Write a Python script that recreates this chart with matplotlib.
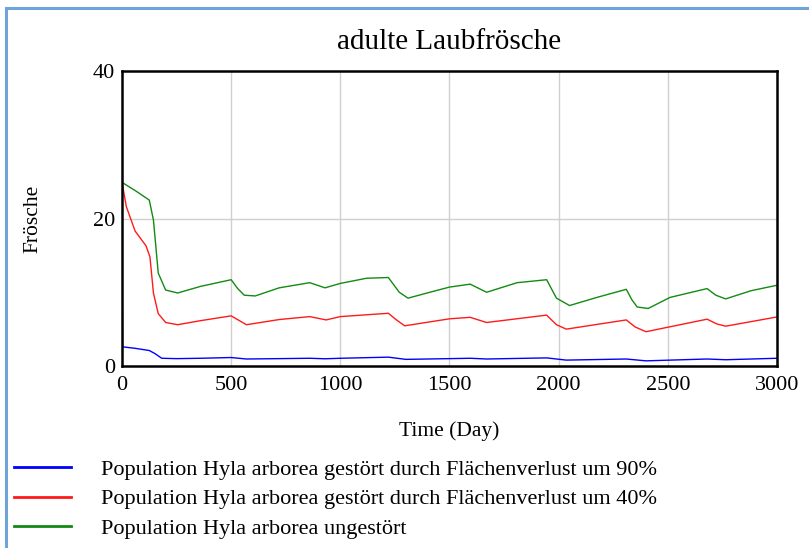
import matplotlib
matplotlib.use("Agg")
import matplotlib.pyplot as plt
from matplotlib.lines import Line2D

plt.rcParams['font.family'] = ['Liberation Serif', 'DejaVu Serif']

# Zeitachse (Tage) und Werte der drei Szenarien
t_90 = [0, 2, 60, 125, 150, 182, 250, 360, 500, 570, 720, 860, 930, 1000, 1220,
        1300, 1500, 1595, 1670, 1945, 2035, 2310, 2400, 2680, 2765, 3000]
pop_90 = [25.0, 2.6, 2.4, 2.1, 1.7, 1.05, 1.0, 1.05, 1.15, 0.95, 1.0, 1.05, 0.98,
          1.05, 1.2, 0.9, 1.0, 1.05, 0.95, 1.1, 0.8, 0.95, 0.7, 0.95, 0.85, 1.05]

t_40 = [0, 20, 60, 110, 128, 144, 166, 200, 255, 360, 500, 535, 570, 720, 860, 935,
        1000, 1220, 1255, 1295, 1500, 1595, 1670, 1945, 1990, 2035, 2310, 2350,
        2400, 2680, 2725, 2765, 3000]
pop_40 = [24.9, 21.6, 18.3, 16.3, 14.8, 9.9, 7.1, 5.9, 5.6, 6.15, 6.8, 6.2, 5.6,
          6.3, 6.7, 6.25, 6.7, 7.15, 6.3, 5.45, 6.4, 6.6, 5.9, 6.9, 5.6, 5.0,
          6.25, 5.3, 4.65, 6.35, 5.7, 5.4, 6.65]

t_0 = [0, 60, 125, 144, 166, 200, 255, 360, 500, 530, 560, 610, 720, 860, 930,
       1000, 1120, 1220, 1270, 1310, 1410, 1500, 1595, 1670, 1810, 1945, 1990,
       2050, 2175, 2310, 2335, 2360, 2410, 2510, 2680, 2720, 2765, 2880, 3000]
pop_0 = [24.9, 23.8, 22.5, 19.8, 12.6, 10.3, 9.9, 10.8, 11.7, 10.5, 9.6, 9.5,
         10.6, 11.3, 10.6, 11.2, 11.9, 12.0, 10.0, 9.2, 10.0, 10.7, 11.1, 10.0,
         11.3, 11.7, 9.2, 8.2, 9.3, 10.4, 9.0, 8.0, 7.8, 9.3, 10.5, 9.6, 9.1,
         10.2, 10.95]

labels = ["Population Hyla arborea gestört durch Flächenverlust um 90%",
          "Population Hyla arborea gestört durch Flächenverlust um 40%",
          "Population Hyla arborea ungestört"]

fig = plt.figure(figsize=(8.09, 5.48), dpi=100)
ax = fig.add_axes([0.1508, 0.3321, 0.8096, 0.5383])

ax.plot(t_90, pop_90, color='#0000ff', lw=1.0, label=labels[0])
ax.plot(t_40, pop_40, color='#ff1a1a', lw=1.0, label=labels[1])
ax.plot(t_0, pop_0, color='#138a13', lw=1.0, label=labels[2])

ax.set_xlim(0, 3000)
ax.set_ylim(0, 40)
ax.set_xticks([0, 500, 1000, 1500, 2000, 2500, 3000])
ax.set_yticks([0, 20, 40])
for x in [500, 1000, 1500, 2000, 2500]:
    ax.axvline(x, color='#d0d0d0', lw=1.0, zorder=0)
ax.axhline(20, color='#d0d0d0', lw=1.0, zorder=0)
ax.tick_params(axis='x', length=0, labelsize=16, pad=7)
ax.tick_params(axis='y', length=0, labelsize=16, pad=5)
for s in ax.spines.values():
    s.set_linewidth(1.8)

ax.set_title("adulte Laubfrösche", fontsize=21, pad=16)
ax.set_xlabel("Time (Day)", fontsize=15.5, labelpad=19)
ax.set_ylabel("Frösche", fontsize=15.5, labelpad=36)

fig.legend(loc='upper left', bbox_to_anchor=(-0.008, 0.198), frameon=False,
           fontsize=16, handlelength=2.6, handletextpad=1.35, labelspacing=0.4)
for h in fig.legends[0].get_lines():
    h.set_linewidth(2)

# Rahmen oben und links
fig.add_artist(Line2D([0.007, 0.007], [0, 0.985], color='#6fa3da', lw=2.2))
fig.add_artist(Line2D([0.007, 1.0], [0.985, 0.985], color='#6fa3da', lw=2.2))

fig.savefig("out.png", dpi=100)
